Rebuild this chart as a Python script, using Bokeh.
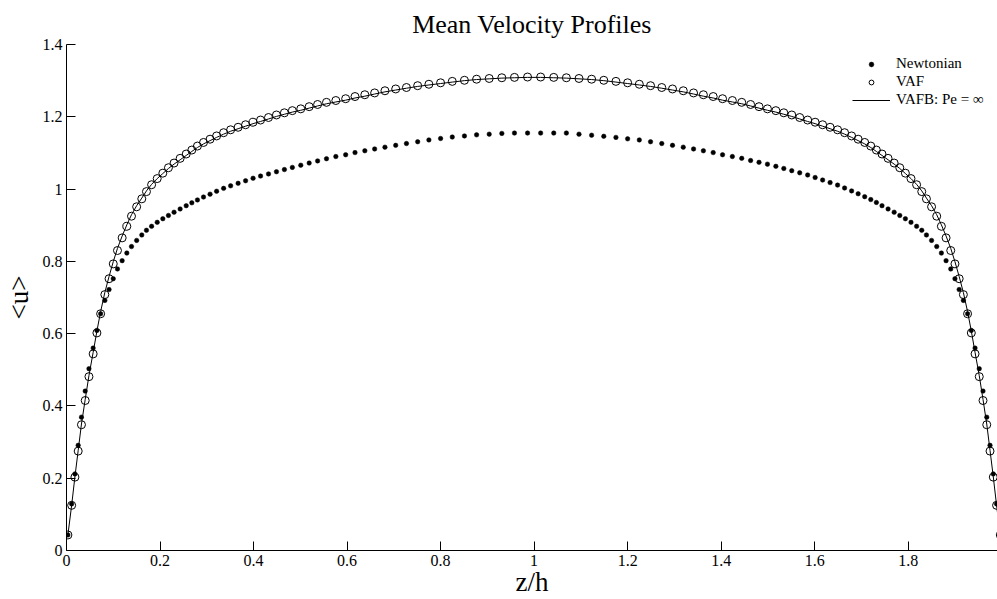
from bokeh.plotting import figure
from bokeh.models import Range1d, FixedTicker, Legend, LegendItem
from bokeh.embed import file_html
from bokeh.resources import INLINE

# Wall-normal grid positions z/h (channel from wall to wall)
z = [
    0.003, 0.011, 0.018, 0.025, 0.032, 0.040, 0.048, 0.057, 0.065, 0.073,
    0.082, 0.091, 0.100, 0.109, 0.119, 0.129, 0.139, 0.150, 0.161, 0.171,
    0.182, 0.194, 0.206, 0.218, 0.230, 0.243, 0.256, 0.268, 0.280, 0.293,
    0.307, 0.321, 0.336, 0.351, 0.367, 0.383, 0.399, 0.415, 0.432, 0.449,
    0.466, 0.483, 0.501, 0.519, 0.537, 0.556, 0.576, 0.597, 0.617, 0.638,
    0.659, 0.681, 0.704, 0.727, 0.751, 0.775, 0.800, 0.825, 0.851, 0.877,
    0.904, 0.931, 0.958, 0.986,
    1.014, 1.042, 1.069, 1.096, 1.123, 1.149, 1.175, 1.200, 1.225, 1.249,
    1.273, 1.296, 1.319, 1.341, 1.362, 1.383, 1.403, 1.424, 1.444, 1.463,
    1.481, 1.499, 1.517, 1.534, 1.551, 1.568, 1.585, 1.601, 1.617, 1.633,
    1.649, 1.664, 1.679, 1.693, 1.707, 1.720, 1.732, 1.744, 1.757, 1.770,
    1.782, 1.794, 1.806, 1.818, 1.829, 1.839, 1.850, 1.861, 1.871, 1.881,
    1.891, 1.900, 1.909, 1.918, 1.927, 1.935, 1.943, 1.952, 1.960, 1.968,
    1.975, 1.982, 1.989, 1.997,
]

# Mean streamwise velocity, Newtonian run
u_newtonian = [
    0.043, 0.129, 0.212, 0.291, 0.369, 0.441, 0.503, 0.560, 0.609, 0.655,
    0.692, 0.722, 0.752, 0.779, 0.802, 0.823, 0.841, 0.858, 0.873, 0.886,
    0.897, 0.908, 0.918, 0.927, 0.936, 0.945, 0.954, 0.962, 0.970, 0.978,
    0.986, 0.994, 1.002, 1.009, 1.016, 1.023, 1.030, 1.036, 1.042, 1.048,
    1.054, 1.060, 1.066, 1.072, 1.078, 1.084, 1.090, 1.095, 1.101, 1.106,
    1.111, 1.116, 1.121, 1.126, 1.131, 1.136, 1.140, 1.144, 1.147, 1.150,
    1.152, 1.154, 1.155, 1.155,
    1.155, 1.155, 1.155, 1.152, 1.149, 1.146, 1.143, 1.139, 1.136, 1.131,
    1.126, 1.121, 1.116, 1.111, 1.106, 1.101, 1.095, 1.090, 1.085, 1.079,
    1.074, 1.069, 1.063, 1.057, 1.051, 1.045, 1.039, 1.032, 1.025, 1.018,
    1.011, 1.003, 0.995, 0.987, 0.979, 0.971, 0.963, 0.954, 0.945, 0.936,
    0.927, 0.918, 0.908, 0.897, 0.886, 0.873, 0.858, 0.841, 0.823, 0.802,
    0.779, 0.752, 0.722, 0.692, 0.655, 0.609, 0.560, 0.503, 0.441, 0.369,
    0.291, 0.212, 0.129, 0.043,
]

# Mean streamwise velocity, VAF run
u_vaf = [
    0.043, 0.125, 0.203, 0.275, 0.348, 0.415, 0.481, 0.544, 0.602, 0.655,
    0.708, 0.752, 0.793, 0.830, 0.865, 0.897, 0.925, 0.951, 0.973, 0.993,
    1.012, 1.029, 1.044, 1.059, 1.072, 1.085, 1.097, 1.108, 1.119, 1.129,
    1.138, 1.147, 1.156, 1.164, 1.171, 1.178, 1.185, 1.191, 1.198, 1.205,
    1.211, 1.217, 1.222, 1.228, 1.234, 1.240, 1.245, 1.250, 1.256, 1.261,
    1.266, 1.272, 1.277, 1.281, 1.286, 1.290, 1.294, 1.298, 1.301, 1.304,
    1.306, 1.308, 1.309, 1.310,
    1.310, 1.309, 1.308, 1.306, 1.304, 1.301, 1.298, 1.294, 1.290, 1.286,
    1.281, 1.277, 1.272, 1.266, 1.261, 1.256, 1.250, 1.245, 1.240, 1.234,
    1.228, 1.222, 1.217, 1.211, 1.205, 1.198, 1.191, 1.185, 1.178, 1.171,
    1.164, 1.156, 1.147, 1.138, 1.129, 1.119, 1.108, 1.097, 1.085, 1.072,
    1.059, 1.044, 1.029, 1.012, 0.993, 0.973, 0.951, 0.925, 0.897, 0.865,
    0.830, 0.793, 0.752, 0.708, 0.655, 0.602, 0.544, 0.481, 0.415, 0.348,
    0.275, 0.203, 0.125, 0.043,
]

# Mean streamwise velocity, VAFB run with Pe = infinity
u_vafb = [
    0.043, 0.125, 0.204, 0.277, 0.350, 0.418, 0.484, 0.548, 0.607, 0.661,
    0.714, 0.758, 0.799, 0.836, 0.870, 0.901, 0.929, 0.954, 0.975, 0.995,
    1.013, 1.029, 1.043, 1.057, 1.069, 1.081, 1.093, 1.104, 1.115, 1.125,
    1.134, 1.143, 1.152, 1.160, 1.167, 1.174, 1.181, 1.187, 1.194, 1.201,
    1.207, 1.213, 1.218, 1.224, 1.230, 1.236, 1.241, 1.246, 1.252, 1.257,
    1.263, 1.269, 1.274, 1.279, 1.284, 1.288, 1.292, 1.296, 1.300, 1.303,
    1.305, 1.307, 1.308, 1.309,
    1.309, 1.308, 1.307, 1.305, 1.303, 1.300, 1.296, 1.292, 1.288, 1.284,
    1.279, 1.274, 1.269, 1.263, 1.257, 1.252, 1.246, 1.241, 1.236, 1.230,
    1.224, 1.218, 1.213, 1.207, 1.201, 1.194, 1.187, 1.181, 1.174, 1.167,
    1.160, 1.152, 1.143, 1.134, 1.125, 1.115, 1.104, 1.093, 1.081, 1.069,
    1.057, 1.043, 1.029, 1.013, 0.995, 0.975, 0.954, 0.929, 0.901, 0.870,
    0.836, 0.799, 0.758, 0.714, 0.661, 0.607, 0.548, 0.484, 0.418, 0.350,
    0.277, 0.204, 0.125, 0.043,
]

x_ticks = [0, 0.2, 0.4, 0.6, 0.8, 1.0, 1.2, 1.4, 1.6, 1.8]
x_tick_labels = ["0", "0.2", "0.4", "0.6", "0.8", "1", "1.2", "1.4", "1.6", "1.8"]
y_ticks = [0, 0.2, 0.4, 0.6, 0.8, 1.0, 1.2, 1.4]
y_tick_labels = ["0", "0.2", "0.4", "0.6", "0.8", "1", "1.2", "1.4"]

series_names = ["Newtonian", "VAF", "VAFB: Pe = \u221e"]
title_text = "Mean Velocity Profiles"
x_title = "z/h"
y_title = "<u>"

FONT = "Liberation Serif"

p = figure(
    width=997, height=599,
    output_backend="svg", toolbar_location=None,
    x_range=Range1d(0, 1.991), y_range=Range1d(0, 1.4),
    min_border_left=66, min_border_right=0,
    min_border_top=44, min_border_bottom=49,
    background_fill_color="white", border_fill_color="white",
)
p.outline_line_color = None
p.xgrid.visible = False
p.ygrid.visible = False

p.title.text = title_text
p.title.align = "center"
p.title.vertical_align = "top"
p.title.text_font = FONT
p.title.text_font_size = "26px"
p.title.text_font_style = "normal"
p.title.text_color = "black"
p.title.standoff = 8

for ax in (p.xaxis[0], p.yaxis[0]):
    ax.axis_line_color = "black"
    ax.axis_line_width = 1
    ax.major_tick_line_color = "black"
    ax.major_tick_in = 9
    ax.major_tick_out = 0
    ax.minor_tick_line_color = None
    ax.major_label_text_font = FONT
    ax.major_label_text_font_size = "16px"
    ax.major_label_text_color = "black"
    ax.major_label_standoff = 4
    ax.axis_label_text_font = FONT
    ax.axis_label_text_font_size = "27px"
    ax.axis_label_text_font_style = "normal"
    ax.axis_label_text_color = "black"

p.xaxis.ticker = FixedTicker(ticks=x_ticks)
p.xaxis.major_label_overrides = dict(zip(x_ticks, x_tick_labels))
p.yaxis.ticker = FixedTicker(ticks=y_ticks)
p.yaxis.major_label_overrides = dict(zip(y_ticks, y_tick_labels))

p.yaxis.axis_label = y_title
p.yaxis.axis_label_standoff = 6
p.xaxis.axis_label = x_title
p.xaxis.axis_label_standoff = -2

r_line = p.line(z, u_vafb, line_color="black", line_width=1)
r_vaf = p.scatter(z, u_vaf, marker="circle", size=8,
                  fill_color=None, line_color="black", line_width=1)
r_newt = p.scatter(z, u_newtonian, marker="circle", size=4.5,
                   fill_color="black", line_color="black", line_width=0.5)

legend = Legend(
    items=[
        LegendItem(label=series_names[0], renderers=[r_newt]),
        LegendItem(label=series_names[1], renderers=[r_vaf]),
        LegendItem(label=series_names[2], renderers=[r_line]),
    ],
    location=(786, 442),
    padding=0, margin=0, spacing=1,
    glyph_width=38, glyph_height=12, label_height=16, label_standoff=6,
    label_text_font=FONT, label_text_font_size="15px", label_text_color="black",
    background_fill_alpha=0, border_line_alpha=0,
)
p.add_layout(legend)

open("out.html", "w").write(file_html(p, INLINE))
